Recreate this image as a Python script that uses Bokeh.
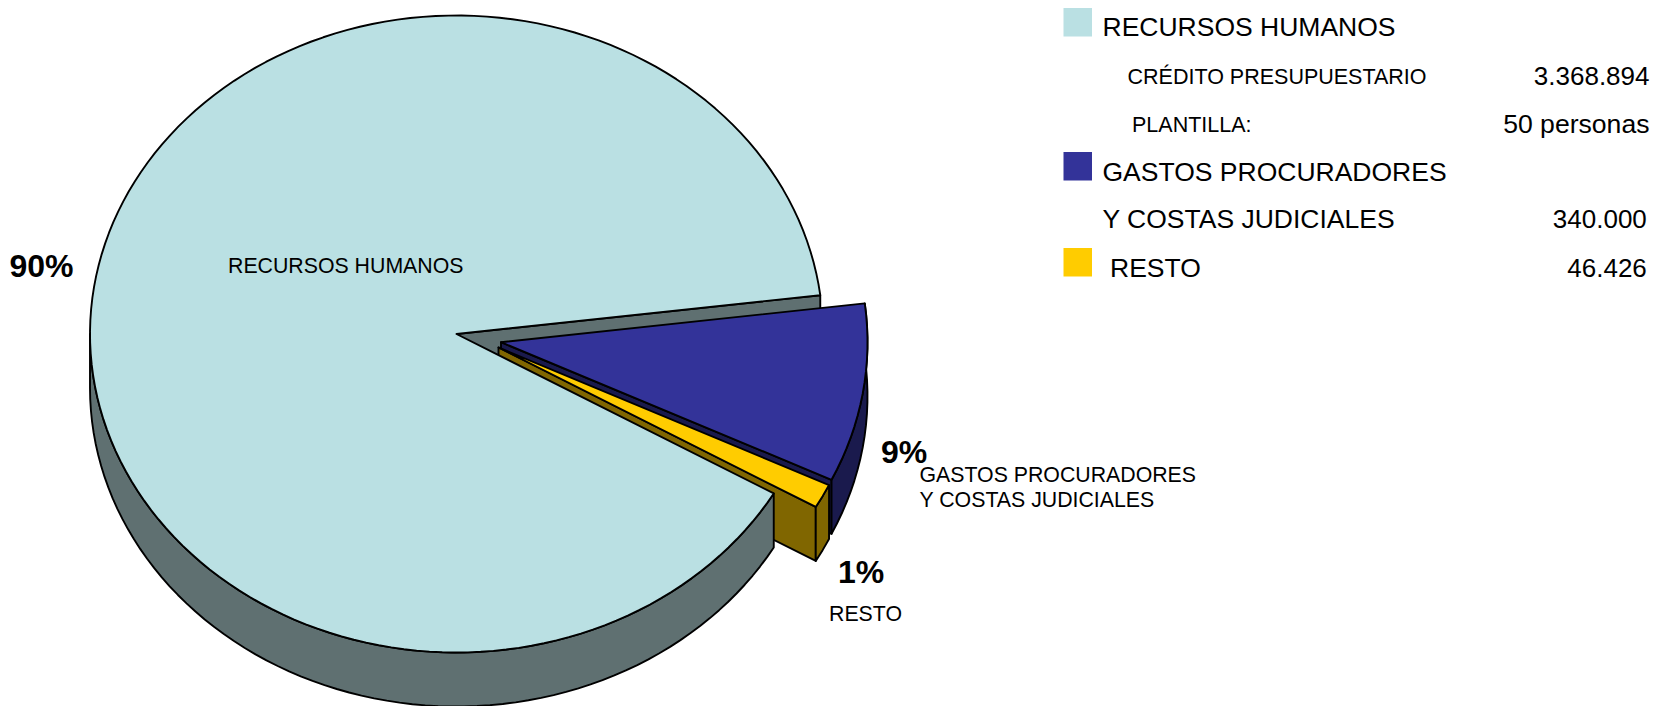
import numpy as np
from bokeh.plotting import figure
from bokeh.models import Range1d
from bokeh.core.properties import value
from bokeh.embed import file_html
from bokeh.resources import INLINE

# ---- data ----
categories = ["RECURSOS HUMANOS", "GASTOS PROCURADORES", "RESTO"]
amounts = [3368894, 340000, 46426]
percent_labels = ["90%", "9%", "1%"]
top_colors = ["#BAE0E3", "#333399", "#FFCC00"]
side_colors = ["#5F7071", "#1A1A4D", "#806600"]

# ---- geometry of the 3D pie (page pixels) ----
W, H = 1654, 706
CX, CY, RX, RY = 456.0, 333.5, 366.5, 318.5
DEPTH = 54.0
START_DEG = 7.0
OFFSETS = {"main": (0, 0), "blue": (44.5, 8.2), "yellow": (42, 13.5)}
FONT = value("Liberation Sans")

p = figure(width=W, height=H, x_range=Range1d(0, W), y_range=Range1d(H, 0),
           output_backend="svg", toolbar_location=None, min_border=0,
           outline_line_color=None)
p.axis.visible = False
p.grid.visible = False
p.background_fill_color = "white"
p.border_fill_color = "white"

total = sum(amounts)
span_main, span_blue, span_yellow = [a / total * 360.0 for a in amounts]
a_blue_low = START_DEG - span_blue
a_yellow_low = a_blue_low - span_yellow


def rim(a0, a1, off, n_step=2.0):
    n = max(2, int(abs(a1 - a0) / n_step) + 1)
    t = np.radians(np.linspace(a0, a1, n))
    return CX + off[0] + RX * np.cos(t), CY + off[1] - RY * np.sin(t)


def poly(xs, ys, color):
    p.patch(list(xs), list(ys), fill_color=color, line_color="black",
            line_width=1.9, line_join="round")


def top(a0, a1, off, color):
    x, y = rim(a0, a1, off)
    poly(np.r_[CX + off[0], x], np.r_[CY + off[1], y], color)


def side(a0, a1, off, color):
    x, y = rim(a0, a1, off)
    poly(np.r_[x, x[::-1]], np.r_[y, y[::-1] + DEPTH], color)


def wall(a, off, color):
    x, y = rim(a, a, off)
    ax, ay = CX + off[0], CY + off[1]
    poly([ax, x[0], x[0], ax], [ay, y[0], y[0] + DEPTH, ay + DEPTH], color)


# back wall of the gap in the main slice
wall(START_DEG, OFFSETS["main"], side_colors[0])
# exploded blue slice
wall(a_blue_low, OFFSETS["blue"], side_colors[1])
side(START_DEG, a_blue_low, OFFSETS["blue"], side_colors[1])
top(START_DEG, a_blue_low, OFFSETS["blue"], top_colors[1])
# exploded yellow slice
wall(a_yellow_low, OFFSETS["yellow"], side_colors[2])
side(a_blue_low, a_yellow_low, OFFSETS["yellow"], side_colors[2])
top(a_blue_low, a_yellow_low, OFFSETS["yellow"], top_colors[2])
# main slice
side(-180.0, a_yellow_low, OFFSETS["main"], side_colors[0])
top(START_DEG, START_DEG + span_main, OFFSETS["main"], top_colors[0])


def label(x, y, s, size, bold=False, align="left"):
    p.text([x], [y], text=[s], text_font=FONT, text_font_size=f"{size}px",
           text_font_style="bold" if bold else "normal", text_color="black",
           text_align=align, text_baseline="alphabetic")


# labels on the pie
label(227.5, 265.5, categories[0], 21.3)
label(9, 265.5, percent_labels[0], 32, bold=True)
label(880.5, 451, percent_labels[1], 32, bold=True)
label(919, 474.5, categories[1], 21.3)
label(919, 499.5, "Y COSTAS JUDICIALES", 21.3)
label(837.5, 571.5, percent_labels[2], 32, bold=True)
label(828.5, 613.5, categories[2], 21.3)

# legend panel
p.quad(left=[1063] * 3, right=[1091.5] * 3, top=[7.5, 151.5, 247.5],
       bottom=[36, 180, 276], fill_color=top_colors, line_color=None)
label(1102, 26.5, categories[0], 26.5)
label(1127, 76, "CRÉDITO PRESUPUESTARIO", 21.5)
label(1649, 75.5, "3.368.894", 26, align="right")
label(1131.5, 124, "PLANTILLA:", 21.5)
label(1649, 123, "50 personas", 26.6, align="right")
label(1102, 171, categories[1], 26.5)
label(1102, 218, "Y COSTAS JUDICIALES", 26.5)
label(1646.3, 218, "340.000", 26, align="right")
label(1109.5, 267, categories[2], 26.5)
label(1646.3, 267, "46.426", 26, align="right")

open("out.html", "w").write(file_html(p, INLINE))
